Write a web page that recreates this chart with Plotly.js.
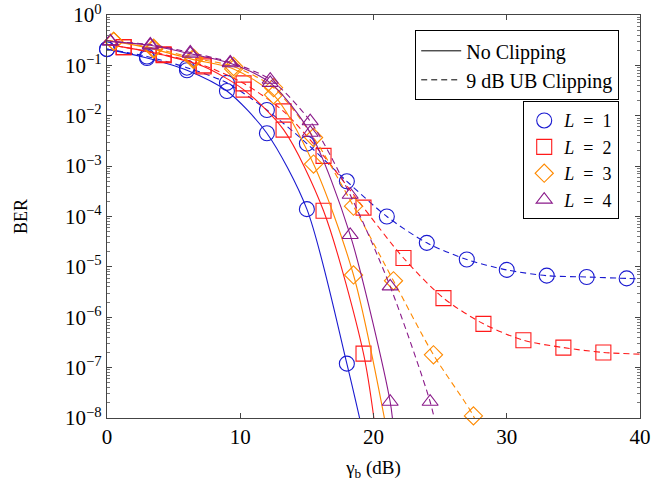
<!DOCTYPE html>
<html>
<head>
<meta charset="utf-8">
<script src="https://cdn.plot.ly/plotly-3.0.1.min.js"></script>
<style>html,body{margin:0;padding:0;background:#fff;}#chart{width:662px;height:485px;}</style>
</head>
<body>
<div id="chart"></div>
<script>
// ---- Data (gamma_b in dB, BER) ----
// L = 1
const l1NoClipX = [0, 3, 6, 9, 12, 15, 18];
const l1NoClipY = [0.21, 0.14, 0.08, 0.031, 4.5e-3, 1.4e-4, 1.2e-7];
const l1NoClipEndX = [19.2];
const l1NoClipEndY = [5.2e-9];
const l1ClipX = [0, 3, 6, 9, 12, 15, 18, 21, 24, 27, 30, 33, 36, 39];
const l1ClipY = [0.21, 0.15, 0.09, 0.045, 0.013, 2.8e-3, 5e-4, 1.0e-4, 3.0e-5, 1.4e-5, 8.7e-6, 6.7e-6, 6.3e-6, 5.9e-6];
const l1ClipEndX = [40];
const l1ClipEndY = [5.8e-6];
// L = 2
const l2StartX = [0];
const l2StartY = [0.26];
const l2NoClipX = [1.25, 4.25, 7.25, 10.25, 13.25, 16.25, 19.25];
const l2NoClipY = [0.23, 0.16, 0.095, 0.033, 5.3e-3, 1.3e-4, 1.9e-7];
const l2NoClipEndX = [20.2];
const l2NoClipEndY = [4.5e-9];
const l2ClipX = [1.25, 4.25, 7.25, 10.25, 13.25, 16.25, 19.25, 22.25, 25.25, 28.25, 31.25, 34.25, 37.25];
const l2ClipY = [0.23, 0.165, 0.1, 0.044, 0.0122, 1.6e-3, 1.5e-4, 1.5e-5, 2.4e-6, 7.4e-7, 3.5e-7, 2.5e-7, 2.0e-7];
const l2ClipEndX = [40];
const l2ClipEndY = [1.85e-7];
// L = 3
const l3StartX = [0];
const l3StartY = [0.31];
const l3NoClipX = [0.5, 3.5, 6.5, 9.5, 12.5, 15.5, 18.5];
const l3NoClipY = [0.3, 0.21, 0.13, 0.085, 0.026, 1.1e-3, 6.9e-6];
const l3NoClipEndX = [21.0];
const l3NoClipEndY = [5.6e-9];
const l3ClipX = [0.5, 3.5, 6.5, 9.5, 12.5, 15.5, 18.5, 21.5, 24.5, 27.5];
const l3ClipY = [0.3, 0.22, 0.14, 0.095, 0.036, 3.7e-3, 1.6e-4, 5.3e-6, 1.8e-7, 1.1e-8];
const l3ClipEndX = [28.0];
const l3ClipEndY = [5e-9];
// L = 4
const l4StartX = [0];
const l4StartY = [0.31];
const l4NoClipX = [0.25, 3.25, 6.25, 9.25, 12.25, 15.25, 18.25, 21.25];
const l4NoClipY = [0.3, 0.25, 0.17, 0.11, 0.045, 4.6e-3, 4.3e-5, 2.1e-8];
const l4NoClipEndX = [21.5];
const l4NoClipEndY = [6e-9];
const l4ClipX = [0.25, 3.25, 6.25, 9.25, 12.25, 15.25, 18.25, 21.25, 24.25];
const l4ClipY = [0.3, 0.26, 0.18, 0.115, 0.052, 7.8e-3, 2.7e-4, 4.1e-6, 2.1e-8];
const l4ClipEndX = [24.8];
const l4ClipEndY = [5e-9];

const xTicks = [0, 10, 20, 30, 40];
const yTickVals = [1e-8, 1e-7, 1e-6, 1e-5, 1e-4, 1e-3, 1e-2, 1e-1, 1];
const yTickText = ['10<sup>−8</sup>', '10<sup>−7</sup>', '10<sup>−6</sup>', '10<sup>−5</sup>', '10<sup>−4</sup>', '10<sup>−3</sup>', '10<sup>−2</sup>', '10<sup>−1</sup>', '10<sup>0</sup>'];
const seriesNames = ['<i>L</i>\u2002=\u20021', '<i>L</i>\u2002=\u20022', '<i>L</i>\u2002=\u20023', '<i>L</i>\u2002=\u20024'];
const styleNames = ['No Clipping', '9 dB UB Clipping'];

// ---- Styles ----
const colors = ['#1a1ad0', '#ff1a1a', '#ff8a00', '#8a1a8a'];
const symbols = ['circle-open', 'square-open', 'diamond-open', 'triangle-up-open'];
const sizes = [15, 15, 14, 14];
const DASH = '6px,4px';

const series = [
  {noX: l1NoClipX, noY: l1NoClipY, noStartX: [], noStartY: [], noEndX: l1NoClipEndX, noEndY: l1NoClipEndY,
   clX: l1ClipX, clY: l1ClipY, clStartX: [], clStartY: [], clEndX: l1ClipEndX, clEndY: l1ClipEndY},
  {noX: l2NoClipX, noY: l2NoClipY, noStartX: l2StartX, noStartY: l2StartY, noEndX: l2NoClipEndX, noEndY: l2NoClipEndY,
   clX: l2ClipX, clY: l2ClipY, clStartX: l2StartX, clStartY: l2StartY, clEndX: l2ClipEndX, clEndY: l2ClipEndY},
  {noX: l3NoClipX, noY: l3NoClipY, noStartX: l3StartX, noStartY: l3StartY, noEndX: l3NoClipEndX, noEndY: l3NoClipEndY,
   clX: l3ClipX, clY: l3ClipY, clStartX: l3StartX, clStartY: l3StartY, clEndX: l3ClipEndX, clEndY: l3ClipEndY},
  {noX: l4NoClipX, noY: l4NoClipY, noStartX: l4StartX, noStartY: l4StartY, noEndX: l4NoClipEndX, noEndY: l4NoClipEndY,
   clX: l4ClipX, clY: l4ClipY, clStartX: l4StartX, clStartY: l4StartY, clEndX: l4ClipEndX, clEndY: l4ClipEndY}
];

const traces = [];
series.forEach((s, i) => {
  traces.push({
    x: [...s.noStartX, ...s.noX, ...s.noEndX], y: [...s.noStartY, ...s.noY, ...s.noEndY],
    mode: 'lines', line: {color: colors[i], width: 1.1, shape: 'spline', smoothing: 0.8},
    showlegend: false, hoverinfo: 'skip'
  });
  traces.push({
    x: [...s.clStartX, ...s.clX, ...s.clEndX], y: [...s.clStartY, ...s.clY, ...s.clEndY],
    mode: 'lines', line: {color: colors[i], width: 1.1, dash: DASH, shape: 'spline', smoothing: 0.8},
    showlegend: false, hoverinfo: 'skip'
  });
  traces.push({
    x: s.noX, y: s.noY, mode: 'markers', cliponaxis: false,
    marker: {symbol: symbols[i], size: sizes[i], color: colors[i], line: {width: 1.1, color: colors[i]}},
    showlegend: false
  });
  traces.push({
    x: s.clX, y: s.clY, mode: 'markers', cliponaxis: false,
    name: seriesNames[i], legend: 'legend2',
    marker: {symbol: symbols[i], size: sizes[i], color: colors[i], line: {width: 1.1, color: colors[i]}},
    showlegend: true
  });
});
traces.push({x: [null], y: [null], mode: 'lines', name: styleNames[0], legend: 'legend',
  line: {color: '#000', width: 1}, showlegend: true});
traces.push({x: [null], y: [null], mode: 'lines', name: styleNames[1], legend: 'legend',
  line: {color: '#000', width: 1, dash: DASH}, showlegend: true});

const serif = '"Liberation Serif"';
const layout = {
  width: 662, height: 485,
  margin: {l: 107, r: 22, t: 15, b: 67},
  paper_bgcolor: '#fff', plot_bgcolor: '#fff',
  font: {family: serif, size: 18, color: '#000'},
  xaxis: {
    range: [0, 40], tickmode: 'array', tickvals: xTicks, ticktext: xTicks.map(String),
    ticks: 'inside', ticklen: 5, tickcolor: '#444', showline: true, linecolor: '#444', linewidth: 1.2,
    mirror: 'ticks', showgrid: false, zeroline: false,
    tickfont: {family: serif, size: 21},
    title: {text: 'γ<sub>b</sub> (dB)', font: {family: serif, size: 19}, standoff: 12},
    automargin: false
  },
  yaxis: {
    type: 'log', range: [-8, 0], tickmode: 'array', tickvals: yTickVals, ticktext: yTickText,
    ticks: 'inside', ticklen: 5, tickcolor: '#444', showline: true, linecolor: '#444', linewidth: 1.2,
    mirror: 'ticks', showgrid: false, zeroline: false,
    minor: {ticks: 'inside', ticklen: 3, tickcolor: '#777', dtick: 'D1', showgrid: false},
    tickfont: {family: serif, size: 21},
    title: {text: 'BER', font: {family: serif, size: 18}, standoff: 32},
    automargin: false
  },
  legend: {
    x: 0.961, xanchor: 'right', y: 0.962, yanchor: 'top',
    bgcolor: '#fff', bordercolor: '#000', borderwidth: 1,
    font: {family: serif, size: 20}, traceorder: 'normal', itemwidth: 40,
    tracegroupgap: 0
  },
  legend2: {
    x: 0.961, xanchor: 'right', y: 0.786, yanchor: 'top',
    bgcolor: '#fff', bordercolor: '#000', borderwidth: 1,
    font: {family: serif, size: 18}, traceorder: 'normal', itemwidth: 30,
    tracegroupgap: 0
  },
  showlegend: true
};

Plotly.newPlot('chart', traces, layout, {displayModeBar: false, staticPlot: true});
</script>
</body>
</html>
